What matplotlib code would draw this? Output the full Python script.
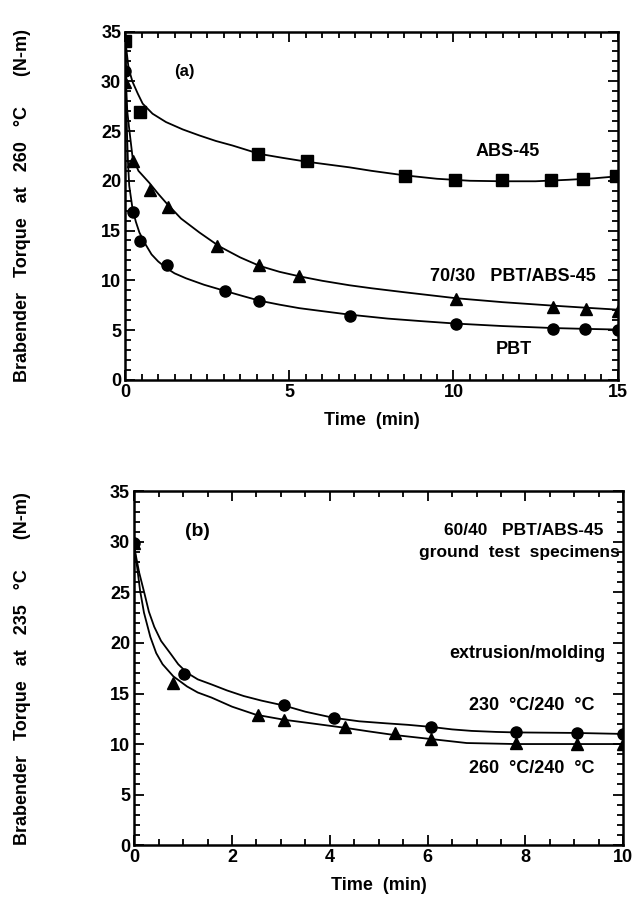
import matplotlib
matplotlib.use("Agg")
import matplotlib.pyplot as plt
from matplotlib.ticker import MultipleLocator

plt.rcParams["font.family"] = ["Liberation Sans", "DejaVu Sans"]
plt.rcParams["font.weight"] = "bold"

# (a) 260 °C data points
abs_t = [0.0, 0.46, 4.05, 5.54, 8.53, 10.04, 11.49, 12.98, 13.95, 14.96]
abs_y = [34.0, 26.9, 22.65, 22.0, 20.5, 20.1, 20.1, 20.1, 20.2, 20.5]
blend_t = [0.0, 0.25, 0.74, 1.3, 2.79, 4.07, 5.29, 10.07, 13.04, 14.03, 15.0]
blend_y = [29.9, 22.0, 19.06, 17.4, 13.4, 11.5, 10.4, 8.1, 7.3, 7.1, 6.9]
pbt_t = [0.0, 0.22, 0.46, 1.28, 3.04, 4.07, 6.86, 10.07, 13.04, 14.0, 15.0]
pbt_y = [31.0, 16.9, 13.9, 11.5, 8.96, 7.95, 6.44, 5.64, 5.13, 5.1, 5.03]

# (a) fitted curves
abs_ct = [0.0, 0.04, 0.10, 0.22, 0.38, 0.53, 0.83, 1.24, 1.75, 2.26, 2.76, 3.27, 4.09,
          4.8, 5.56, 6.83, 7.5, 8.5, 9.5, 10.5, 11.5, 12.5, 13.5, 14.3, 15.0]
abs_cy = [34.2, 33.0, 31.3, 29.95, 28.76, 27.75, 26.74, 25.9, 25.16, 24.55, 24.0, 23.54, 22.7,
          22.3, 21.9, 21.35, 21.0, 20.55, 20.2, 20.0, 19.95, 19.95, 20.1, 20.25, 20.45]
blend_ct = [0.0, 0.02, 0.06, 0.12, 0.22, 0.4, 0.73, 1.0, 1.24, 1.7, 2.26, 2.87, 3.5, 4.09,
            4.7, 5.3, 6.0, 6.83, 7.5, 8.5, 10.07, 11.5, 13.04, 14.0, 15.0]
blend_cy = [33.5, 30.0, 27.0, 25.2, 22.4, 21.0, 19.8, 18.7, 17.8, 16.2, 14.8, 13.4, 12.3, 11.45,
            10.85, 10.4, 9.95, 9.5, 9.2, 8.8, 8.2, 7.8, 7.45, 7.25, 7.05]
pbt_ct = [0.0, 0.02, 0.05, 0.08, 0.12, 0.22, 0.32, 0.43, 0.6, 0.8, 1.0, 1.24, 1.5, 1.85, 2.4,
          3.07, 3.6, 4.09, 4.7, 5.3, 6.0, 6.83, 8.0, 9.0, 10.07, 11.5, 13.04, 14.0, 15.0]
pbt_cy = [33.5, 29.0, 25.0, 22.0, 19.5, 17.2, 15.9, 14.8, 13.7, 12.6, 11.9, 11.25, 10.7, 10.2, 9.55,
          8.9, 8.4, 7.95, 7.55, 7.2, 6.9, 6.55, 6.15, 5.9, 5.65, 5.4, 5.2, 5.12, 5.05]

# (b) 235 °C data points
c230_t = [0.0, 1.01, 3.07, 4.08, 6.06, 7.8, 9.05, 10.0]
c230_y = [29.9, 16.95, 13.84, 12.6, 11.7, 11.2, 11.1, 11.0]
c260_t = [0.0, 0.79, 2.53, 3.07, 4.32, 5.33, 6.07, 7.8, 9.05, 10.0]
c260_y = [29.9, 16.0, 12.9, 12.4, 11.7, 11.1, 10.5, 10.1, 10.0, 10.0]

# (b) fitted curves
c230_ct = [0.0, 0.1, 0.21, 0.3, 0.41, 0.55, 0.75, 0.9, 1.08, 1.3, 1.58, 1.9, 2.24, 2.6, 3.07,
           3.5, 4.07, 4.6, 5.15, 5.6, 6.06, 6.5, 6.9, 7.4, 7.8, 9.0, 10.0]
c230_cy = [29.5, 27.0, 24.9, 23.1, 21.6, 20.2, 18.9, 17.9, 17.05, 16.4, 15.9, 15.3, 14.75, 14.3, 13.8,
           13.2, 12.6, 12.25, 12.05, 11.9, 11.7, 11.45, 11.3, 11.2, 11.15, 11.1, 11.0]
c260_ct = [0.0, 0.06, 0.12, 0.2, 0.33, 0.45, 0.58, 0.8, 1.08, 1.3, 1.58, 2.0, 2.49, 3.07, 3.7,
           4.32, 4.8, 5.31, 6.06, 6.8, 7.8, 10.0]
c260_cy = [29.5, 27.5, 25.2, 23.0, 20.6, 19.0, 17.9, 16.7, 15.7, 15.1, 14.6, 13.7, 12.9, 12.4, 12.0,
           11.6, 11.25, 10.9, 10.5, 10.1, 10.0, 10.0]

fig = plt.figure(figsize=(6.36, 9), dpi=100)
ax1 = fig.add_axes([0.197, 0.578, 0.774, 0.387])
ax2 = fig.add_axes([0.211, 0.061, 0.769, 0.393])

mk = dict(color="black", linestyle="none", markersize=8)
ln = dict(color="black", linewidth=1.3, solid_joinstyle="round")

ax1.plot(abs_ct, abs_cy, **ln)
ax1.plot(blend_ct, blend_cy, **ln)
ax1.plot(pbt_ct, pbt_cy, **ln)
ax1.plot(abs_t, abs_y, marker="s", **mk)
ax1.plot(blend_t, blend_y, marker="^", **mk)
ax1.plot(pbt_t, pbt_y, marker="o", **mk)

ax2.plot(c230_ct, c230_cy, **ln)
ax2.plot(c260_ct, c260_cy, **ln)
ax2.plot(c260_t, c260_y, marker="^", **mk)
ax2.plot(c230_t, c230_y, marker="o", **mk)

for ax, xmax, xmaj in [(ax1, 15, 5), (ax2, 10, 2)]:
    ax.set_xlim(0, xmax)
    ax.set_ylim(0, 35)
    ax.xaxis.set_major_locator(MultipleLocator(xmaj))
    ax.xaxis.set_minor_locator(MultipleLocator(0.5))
    ax.yaxis.set_major_locator(MultipleLocator(5))
    ax.yaxis.set_minor_locator(MultipleLocator(1))
    ax.tick_params(which="both", direction="in", top=True, right=True, width=1.3, labelsize=13)
    ax.tick_params(which="major", length=7, pad=3)
    ax.tick_params(which="minor", length=4)
    for s in ax.spines.values():
        s.set_linewidth(1.8)
    ax.set_xlabel("Time  (min)", fontsize=13, fontweight="bold", labelpad=8)

fig.text(0.036, 0.578 + 0.387 / 2, "Brabender   Torque   at   260   \u00b0C      (N-m)",
         rotation=90, ha="center", va="center", fontsize=13, fontweight="bold")
fig.text(0.036, 0.061 + 0.393 / 2, "Brabender   Torque   at   235   \u00b0C      (N-m)",
         rotation=90, ha="center", va="center", fontsize=13, fontweight="bold")

tk = dict(fontsize=13, fontweight="bold")
ax1.text(1.8, 31.0, "(a)", ha="center", va="center", fontsize=12, fontweight="bold")
ax1.text(11.65, 22.9, "ABS-45", ha="center", va="center", **tk)
ax1.text(11.8, 10.4, "70/30   PBT/ABS-45", ha="center", va="center", **tk)
ax1.text(11.85, 3.0, "PBT", ha="center", va="center", **tk)

ax2.text(1.29, 31.0, "(b)", ha="center", va="center", fontsize=14, fontweight="bold")
ax2.text(9.6, 31.1, "60/40   PBT/ABS-45", ha="right", va="center", fontsize=12.5, fontweight="bold")
ax2.text(9.92, 29.0, "ground  test  specimens", ha="right", va="center", fontsize=12.5,
         fontweight="bold")
ax2.text(9.63, 19.0, "extrusion/molding", ha="right", va="center", **tk)
ax2.text(9.42, 13.8, "230  \u00b0C/240  \u00b0C", ha="right", va="center", **tk)
ax2.text(9.42, 7.55, "260  \u00b0C/240  \u00b0C", ha="right", va="center", **tk)

fig.savefig("out.png", dpi=100)
